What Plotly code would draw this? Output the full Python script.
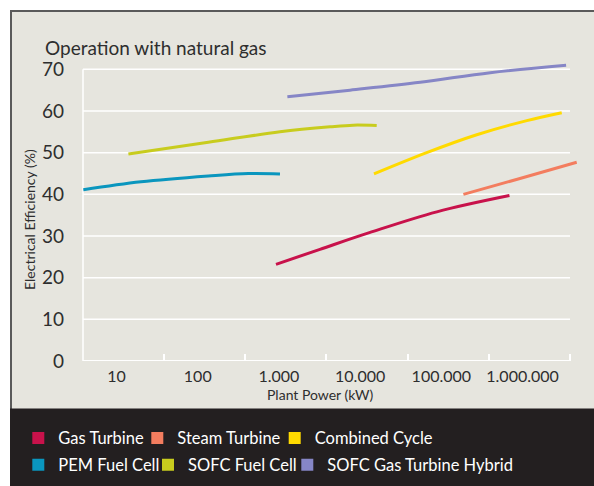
import plotly.graph_objects as go

# ---------------- data ----------------
title_text = "Operation with natural gas"
x_title = "Plant Power (kW)"
y_title = "Electrical Efficiency (%)"

x_tick_vals = [10, 100, 1000, 10000, 100000, 1000000]
x_tick_text = ["10", "100", "1.000", "10.000", "100.000", "1.000.000"]
y_tick_vals = [0, 10, 20, 30, 40, 50, 60, 70]

series_names = ["Gas Turbine", "Steam Turbine", "Combined Cycle",
                "PEM Fuel Cell", "SOFC Fuel Cell", "SOFC Gas Turbine Hybrid"]

gas_turbine_kw = [920, 3200, 13000, 88000, 690000]
gas_turbine_eff = [23.2, 26.8, 30.8, 35.8, 39.7]

steam_turbine_kw = [187000, 930000, 4650000]
steam_turbine_eff = [40.0, 43.8, 47.7]

combined_cycle_kw = [14800, 66000, 273000, 1130000, 3040000]
combined_cycle_eff = [44.9, 50.0, 54.3, 57.7, 59.6]

pem_fc_kw = [3.9, 20, 135, 420, 1030]
pem_fc_eff = [41.1, 43.0, 44.4, 45.0, 44.9]

sofc_fc_kw = [14, 135, 1030, 4260, 8200, 16000]
sofc_fc_eff = [49.7, 52.5, 55.0, 56.2, 56.6, 56.5]

sofc_hybrid_kw = [1270, 7500, 55000, 400000, 3440000]
sofc_hybrid_eff = [63.4, 65.0, 66.9, 69.2, 71.0]

# ---------------- style ----------------
colors = ["#C8124B", "#F37D5F", "#FFDA00", "#0A96BE", "#C8CC1E", "#8686C6"]
BG = "#E6E5DE"
DARK = "#231F20"
TXT = "#2E2E2E"
FONT = "Lato"

W, H = 594, 486
ML, MR, MT, MB = 83, 16, 61, 125
PW, PH = W - ML - MR, H - MT - MB
X_LOG_RANGE = [0.587, 0.587 + PW / 81.2]
Y_RANGE = [0, 72]
GRID_END_LOG = 6.585


def px(xp):
    return (xp - ML) / PW


def py(yp):
    return (H - MB - yp) / PH


series = [
    (gas_turbine_kw, gas_turbine_eff),
    (steam_turbine_kw, steam_turbine_eff),
    (combined_cycle_kw, combined_cycle_eff),
    (pem_fc_kw, pem_fc_eff),
    (sofc_fc_kw, sofc_fc_eff),
    (sofc_hybrid_kw, sofc_hybrid_eff),
]

fig = go.Figure()
for (xs, ys), c in zip(series, colors):
    fig.add_trace(go.Scatter(x=xs, y=ys, mode="lines",
                             line=dict(color=c, width=3, shape="spline", smoothing=1.0),
                             showlegend=False, hoverinfo="skip"))

# legend entries (square swatches), one legend per entry to place them like the original
legend_ids = ["legend", "legend2", "legend3", "legend4", "legend5", "legend6"]
legend_text_x = [54.3, 173.3, 310.7, 54.3, 184.0, 323.3]
legend_row_y = [438.3, 438.3, 438.3, 465.0, 465.0, 465.0]
for name, c, lid in zip(series_names, colors, legend_ids):
    fig.add_trace(go.Scatter(x=[None], y=[None], mode="markers", name=name,
                             marker=dict(symbol="square", size=12, color=c),
                             legend=lid, showlegend=True))

legend_layouts = {}
for lid, tx, ty in zip(legend_ids, legend_text_x, legend_row_y):
    legend_layouts[lid] = dict(x=px(tx - 36), y=py(ty), xanchor="left", yanchor="middle",
                               bgcolor="rgba(0,0,0,0)", borderwidth=0,
                               font=dict(family=FONT, size=16.5, color="white"))

shapes = [
    # framed panel
    dict(type="rect", xref="paper", yref="paper", x0=px(11), x1=px(640), y0=py(11), y1=py(520),
         fillcolor=BG, line=dict(color="#5A5A5A", width=2), layer="below"),
    # dark legend band
    dict(type="rect", xref="paper", yref="paper", x0=px(10), x1=px(640), y0=py(408.5), y1=py(520),
         fillcolor=DARK, line=dict(width=0), layer="below"),
]
grid_x1 = (GRID_END_LOG - X_LOG_RANGE[0]) / (X_LOG_RANGE[1] - X_LOG_RANGE[0])
for v in y_tick_vals:
    shapes.append(dict(type="line", xref="paper", yref="y", x0=0, x1=grid_x1, y0=v, y1=v,
                       line=dict(color="white", width=2 if v == 0 else 1.5), layer="below"))
shapes.append(dict(type="line", xref="paper", yref="y", x0=0, x1=0, y0=0, y1=70,
                   line=dict(color="white", width=1.5), layer="below"))

annotations = [
    dict(text=title_text, xref="paper", yref="paper", x=px(43), y=py(47), xanchor="left",
         yanchor="middle", showarrow=False, font=dict(family=FONT, size=19, color=TXT)),
    dict(text=y_title, xref="paper", yref="paper", x=px(29), y=py(220), xanchor="center",
         yanchor="middle", textangle=-90, showarrow=False, font=dict(family=FONT, size=14, color=TXT)),
    dict(text=x_title, xref="paper", yref="paper", x=px(320), y=py(394.5), xanchor="center",
         yanchor="middle", showarrow=False, font=dict(family=FONT, size=14, color=TXT)),
]

minor_ticks = [10 ** (k + 0.585) for k in range(1, 7)]

fig.update_layout(
    width=W, height=H,
    margin=dict(l=ML, r=MR, t=MT, b=MB, pad=0, autoexpand=False),
    paper_bgcolor="white", plot_bgcolor="rgba(0,0,0,0)",
    font=dict(family=FONT, color=TXT),
    shapes=shapes, annotations=annotations,
    **legend_layouts,
    xaxis=dict(type="log", range=X_LOG_RANGE, showgrid=False, zeroline=False, showline=False,
               tickmode="array", tickvals=x_tick_vals, ticktext=x_tick_text, ticks="",
               tickfont=dict(family=FONT, size=16, color=TXT), ticklabelstandoff=4,
               minor=dict(tickmode="array", tickvals=minor_ticks, ticks="inside", ticklen=7,
                          tickcolor="white", tickwidth=1.5, showgrid=False)),
    yaxis=dict(range=Y_RANGE, showgrid=False, zeroline=False, showline=False,
               tickmode="array", tickvals=y_tick_vals, ticks="",
               tickfont=dict(family=FONT, size=19, color=TXT), ticklabelstandoff=18),
)

fig.write_html("out.html", config={"displayModeBar": False},
               post_script="document.body.style.margin='0px';")
